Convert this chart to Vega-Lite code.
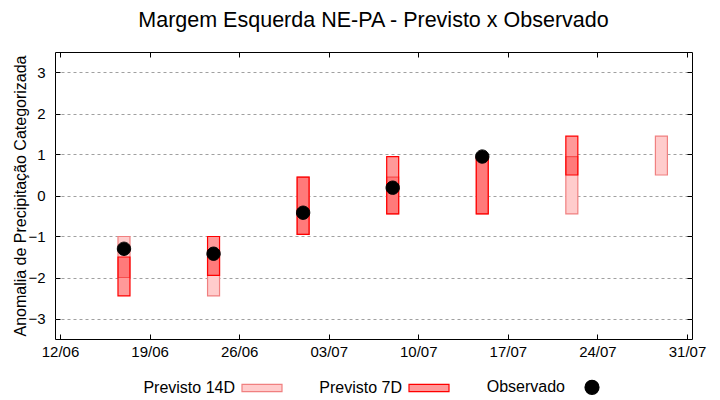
{
  "$schema": "https://vega.github.io/schema/vega-lite/v6.json",
  "width": 637,
  "height": 287,
  "autosize": "none",
  "padding": {"left": 55, "top": 52, "right": 28, "bottom": 61},
  "background": "white",
  "config": {
    "font": "Liberation Sans",
    "view": {"stroke": "black", "strokeWidth": 1},
    "axis": {"labelColor": "black", "titleColor": "black", "tickColor": "black", "domain": false, "labelFont": "Liberation Sans", "titleFont": "Liberation Sans"}
  },
  "title": {"text": "Margem Esquerda NE-PA - Previsto x Observado", "fontSize": 21.5, "fontWeight": "normal", "font": "Liberation Sans", "color": "black", "offset": 20},
  "datasets": {
    "prev": [
      {"data": "2023-06-17", "serie": "Previsto 14D", "sup": -1.0, "inf": -2.0},
      {"data": "2023-06-24", "serie": "Previsto 14D", "sup": -1.5, "inf": -2.45},
      {"data": "2023-07-01", "serie": "Previsto 14D", "sup": 0.45, "inf": -0.95},
      {"data": "2023-07-08", "serie": "Previsto 14D", "sup": 0.45, "inf": -0.45},
      {"data": "2023-07-15", "serie": "Previsto 14D", "sup": 0.95, "inf": -0.45},
      {"data": "2023-07-22", "serie": "Previsto 14D", "sup": 0.95, "inf": -0.45},
      {"data": "2023-07-29", "serie": "Previsto 14D", "sup": 1.45, "inf": 0.5},
      {"data": "2023-06-17", "serie": "Previsto 7D", "sup": -1.5, "inf": -2.45},
      {"data": "2023-06-24", "serie": "Previsto 7D", "sup": -1.0, "inf": -1.95},
      {"data": "2023-07-01", "serie": "Previsto 7D", "sup": 0.45, "inf": -0.95},
      {"data": "2023-07-08", "serie": "Previsto 7D", "sup": 0.95, "inf": -0.45},
      {"data": "2023-07-15", "serie": "Previsto 7D", "sup": 0.95, "inf": -0.45},
      {"data": "2023-07-22", "serie": "Previsto 7D", "sup": 1.45, "inf": 0.5}
    ],
    "obs": [
      {"data": "2023-06-17", "serie": "Observado", "valor": -1.3},
      {"data": "2023-06-24", "serie": "Observado", "valor": -1.42},
      {"data": "2023-07-01", "serie": "Observado", "valor": -0.42},
      {"data": "2023-07-08", "serie": "Observado", "valor": 0.19},
      {"data": "2023-07-15", "serie": "Observado", "valor": 0.95}
    ]
  },
  "resolve": {"axis": {"x": "independent", "y": "independent"}},
  "layer": [
    {
      "data": {"name": "prev"},
      "mark": {"type": "bar", "size": 12, "fill": "white", "stroke": null},
      "encoding": {
        "x": {"field": "data", "type": "temporal", "scale": {"type": "utc", "domain": [{"year": 2023, "month": 6, "date": 12, "utc": true}, {"year": 2023, "month": 7, "date": 31, "utc": true}]},
          "axis": {"orient": "bottom", "title": null, "format": "%d/%m", "labelFontSize": 15, "tickSize": -5, "labelPadding": 10, "grid": false,
            "values": [{"year": 2023, "month": 6, "date": 12, "utc": true}, {"year": 2023, "month": 6, "date": 19, "utc": true}, {"year": 2023, "month": 6, "date": 26, "utc": true}, {"year": 2023, "month": 7, "date": 3, "utc": true}, {"year": 2023, "month": 7, "date": 10, "utc": true}, {"year": 2023, "month": 7, "date": 17, "utc": true}, {"year": 2023, "month": 7, "date": 24, "utc": true}, {"year": 2023, "month": 7, "date": 31, "utc": true}]}},
        "y": {"field": "sup", "type": "quantitative", "scale": {"domain": [-3.5, 3.5], "nice": false, "zero": false},
          "axis": {"orient": "left", "title": "Anomalia de Precipitação Categorizada", "titleFontSize": 16, "titleFontWeight": "normal", "titlePadding": -1, "labelFontSize": 15, "tickSize": -5, "labelPadding": 15,
            "values": [-3, -2, -1, 0, 1, 2, 3], "grid": true, "gridColor": "#a0a0a0", "gridDash": [3, 3], "gridWidth": 1}},
        "y2": {"field": "inf"}
      }
    },
    {
      "data": {"name": "prev"},
      "mark": {"type": "bar", "size": 12, "strokeWidth": 1.2},
      "encoding": {
        "x": {"field": "data", "type": "temporal",
          "axis": {"orient": "top", "title": null, "labels": false, "tickSize": -5, "grid": false,
            "values": [{"year": 2023, "month": 6, "date": 12, "utc": true}, {"year": 2023, "month": 6, "date": 19, "utc": true}, {"year": 2023, "month": 6, "date": 26, "utc": true}, {"year": 2023, "month": 7, "date": 3, "utc": true}, {"year": 2023, "month": 7, "date": 10, "utc": true}, {"year": 2023, "month": 7, "date": 17, "utc": true}, {"year": 2023, "month": 7, "date": 24, "utc": true}, {"year": 2023, "month": 7, "date": 31, "utc": true}]}},
        "y": {"field": "sup", "type": "quantitative",
          "axis": {"orient": "right", "title": null, "labels": false, "tickSize": -5, "grid": false, "values": [-3, -2, -1, 0, 1, 2, 3]}},
        "y2": {"field": "inf"},
        "fill": {"field": "serie", "type": "nominal", "scale": {"domain": ["Previsto 14D", "Previsto 7D", "Observado"], "range": ["rgba(255,0,0,0.2)", "rgba(255,0,0,0.4)", "#000000"]},
          "legend": {"orient": "none", "legendX": 186, "legendY": 314, "direction": "horizontal", "title": null, "labelFontSize": 16, "labelColor": "black", "labelAlign": "right", "labelOffset": -48, "symbolSize": 1600, "symbolStrokeWidth": 1.2, "columnPadding": 34,
            "encode": {"symbols": {"update": {"fill": {"scale": "fill", "field": "value"}, "stroke": {"scale": "stroke", "field": "value"}, "opacity": {"value": 1}, "fillOpacity": {"value": 1}}}}}},
        "stroke": {"field": "serie", "type": "nominal", "scale": {"domain": ["Previsto 14D", "Previsto 7D", "Observado"], "range": ["#f08080", "#ff0000", "#000000"]}, "legend": null}
      }
    },
    {
      "data": {"name": "obs"},
      "mark": {"type": "point", "size": 1450, "filled": true, "fill": "black", "stroke": "black", "opacity": 1, "fillOpacity": 1, "strokeWidth": 1},
      "encoding": {
        "x": {"field": "data", "type": "temporal", "axis": null},
        "y": {"field": "valor", "type": "quantitative", "axis": null},
        "shape": {"field": "serie", "type": "nominal", "scale": {"domain": ["Previsto 14D", "Previsto 7D", "Observado"], "range": ["M-1,-0.18H1V0.18H-1Z", "M-1,-0.18H1V0.18H-1Z", "M-0.35,0A0.35,0.35 0 1,0 0.35,0A0.35,0.35 0 1,0 -0.35,0Z"]},
          "legend": {"orient": "none", "legendX": 186, "legendY": 314, "direction": "horizontal", "title": null}}
      }
    }
  ]
}
